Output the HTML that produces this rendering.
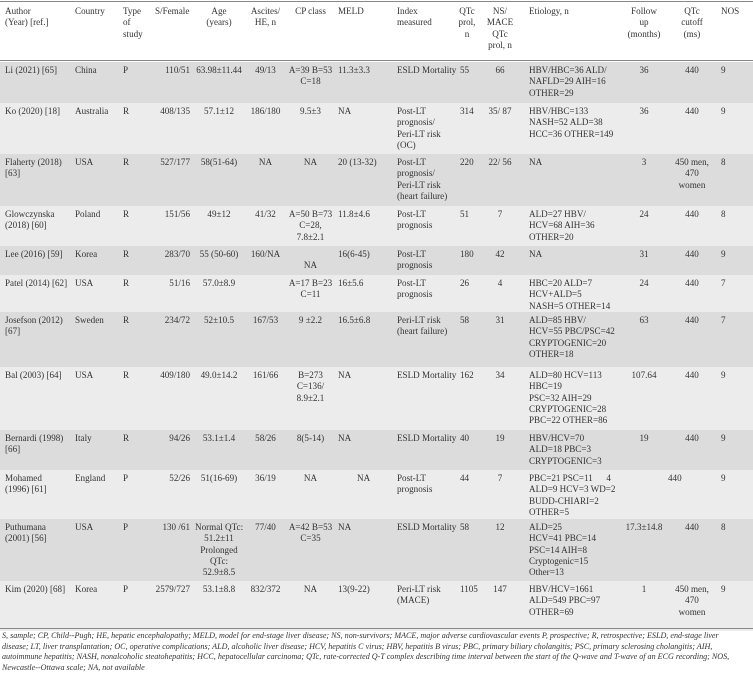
<!DOCTYPE html>
<html><head><meta charset="utf-8"><style>
html,body{margin:0;padding:0;background:#fff;width:753px;height:671px;overflow:hidden}
body{font-family:"Liberation Serif",serif;color:#333;font-size:9.1px;line-height:11.3px}
table{position:absolute;left:0;top:2px;width:753px;border-collapse:collapse;table-layout:fixed}
td{vertical-align:top;padding:3px 0 0 5px;overflow:visible;white-space:nowrap}
tr.h td{height:56px;padding-top:4px}
tr.d td{background:#dcdcdc}
tr.l td{background:#ececec}
td.e{padding-left:8px}
.c{text-align:center;padding-left:0}
.r{text-align:right;padding-right:5px}
#top{position:absolute;left:0;top:1px;width:753px;border-top:1.5px solid #888}
#hl{position:absolute;left:0;top:60px;width:753px;border-top:1.5px solid #888}
#bl{position:absolute;left:0;top:628px;width:753px;border-top:1.5px solid #888}
#fn{position:absolute;left:2px;top:631px;width:760px;font-style:italic;font-size:8.1px;line-height:10.6px;color:#333;white-space:nowrap}
</style></head><body>
<table>
<colgroup><col style="width:70px"><col style="width:48px"><col style="width:32px"><col style="width:45px"><col style="width:48px"><col style="width:45px"><col style="width:45px"><col style="width:59px"><col style="width:63px"><col style="width:24px"><col style="width:42px"><col style="width:99px"><col style="width:48px"><col style="width:48px"><col style="width:37px"></colgroup>
<tr class="h"><td>Author<br>(Year) [ref.]</td><td>Country</td><td>Type<br>of<br>study</td><td>S/Female</td><td class="c">Age<br>(years)</td><td class="c">Ascites/<br>HE, n</td><td class="c">CP class</td><td>MELD</td><td>Index<br>measured</td><td class="c">QTc<br>prol,<br>n</td><td class="c">NS/<br>MACE<br>QTc<br>prol, n</td><td class="e">Etiology, n</td><td class="c">Follow<br>up<br>(months)</td><td class="c">QTc<br>cutoff<br>(ms)</td><td>NOS</td></tr>
<tr class="d" style="height:41px"><td>Li (2021) [65]</td><td>China</td><td>P</td><td class="r">110/51</td><td class="c">63.98±11.44</td><td class="c">49/13</td><td class="c">A=39 B=53<br>C=18</td><td>11.3±3.3</td><td>ESLD Mortality</td><td>55</td><td class="c">66</td><td class="e">HBV/HBC=36 ALD/<br>NAFLD=29 AIH=16<br>OTHER=29</td><td class="c">36</td><td class="c">440</td><td>9</td></tr>
<tr class="l" style="height:51px"><td>Ko (2020) [18]</td><td>Australia</td><td>R</td><td class="r">408/135</td><td class="c">57.1±12</td><td class="c">186/180</td><td class="c">9.5±3</td><td>NA</td><td>Post-LT<br>prognosis/<br>Peri-LT risk<br>(OC)</td><td>314</td><td class="c">35/ 87</td><td class="e">HBV/HBC=133<br>NASH=52 ALD=38<br>HCC=36 OTHER=149</td><td class="c">36</td><td class="c">440</td><td>9</td></tr>
<tr class="d" style="height:52px"><td>Flaherty (2018)<br>[63]</td><td>USA</td><td>R</td><td class="r">527/177</td><td class="c">58(51-64)</td><td class="c">NA</td><td class="c">NA</td><td>20 (13-32)</td><td>Post-LT<br>prognosis/<br>Peri-LT risk<br>(heart failure)</td><td>220</td><td class="c">22/ 56</td><td class="e">NA</td><td class="c">3</td><td class="c">450 men,<br>470<br>women</td><td>8</td></tr>
<tr class="l" style="height:40px"><td>Glowczynska<br>(2018) [60]</td><td>Poland</td><td>R</td><td class="r">151/56</td><td class="c">49±12</td><td class="c">41/32</td><td class="c">A=50 B=73<br>C=28,<br>7.8±2.1</td><td>11.8±4.6</td><td>Post-LT<br>prognosis</td><td>51</td><td class="c">7</td><td class="e">ALD=27 HBV/<br>HCV=68 AIH=36<br>OTHER=20</td><td class="c">24</td><td class="c">440</td><td>8</td></tr>
<tr class="d" style="height:29px"><td>Lee (2016) [59]</td><td>Korea</td><td>R</td><td class="r">283/70</td><td class="c">55 (50-60)</td><td class="c">160/NA</td><td class="c"><br>NA</td><td>16(6-45)</td><td>Post-LT<br>prognosis</td><td>180</td><td class="c">42</td><td class="e">NA</td><td class="c">31</td><td class="c">440</td><td>9</td></tr>
<tr class="l" style="height:37px"><td>Patel (2014) [62]</td><td>USA</td><td>R</td><td class="r">51/16</td><td class="c">57.0±8.9</td><td class="c"></td><td class="c">A=17 B=23<br>C=11</td><td>16±5.6</td><td>Post-LT<br>prognosis</td><td>26</td><td class="c">4</td><td class="e">HBC=20 ALD=7<br>HCV+ALD=5<br>NASH=5 OTHER=14</td><td class="c">24</td><td class="c">440</td><td>7</td></tr>
<tr class="d" style="height:55px"><td>Josefson (2012)<br>[67]</td><td>Sweden</td><td>R</td><td class="r">234/72</td><td class="c">52±10.5</td><td class="c">167/53</td><td class="c">9 ±2.2</td><td>16.5±6.8</td><td>Peri-LT risk<br>(heart failure)</td><td>58</td><td class="c">31</td><td class="e">ALD=85 HBV/<br>HCV=55 PBC/PSC=42<br>CRYPTOGENIC=20<br>OTHER=18</td><td class="c">63</td><td class="c">440</td><td>7</td></tr>
<tr class="l" style="height:63px"><td>Bal (2003) [64]</td><td>USA</td><td>R</td><td class="r">409/180</td><td class="c">49.0±14.2</td><td class="c">161/66</td><td class="c">B=273<br>C=136/<br>8.9±2.1</td><td>NA</td><td>ESLD Mortality</td><td>162</td><td class="c">34</td><td class="e">ALD=80 HCV=113<br>HBC=19<br>PSC=32 AIH=29<br>CRYPTOGENIC=28<br>PBC=22 OTHER=86</td><td class="c">107.64</td><td class="c">440</td><td>9</td></tr>
<tr class="d" style="height:40px"><td>Bernardi (1998)<br>[66]</td><td>Italy</td><td>R</td><td class="r">94/26</td><td class="c">53.1±1.4</td><td class="c">58/26</td><td class="c">8(5-14)</td><td>NA</td><td>ESLD Mortality</td><td>40</td><td class="c">19</td><td class="e">HBV/HCV=70<br>ALD=18 PBC=3<br>CRYPTOGENIC=3</td><td class="c">19</td><td class="c">440</td><td>9</td></tr>
<tr class="l" style="height:49px"><td>Mohamed<br>(1996) [61]</td><td>England</td><td>P</td><td class="r">52/26</td><td class="c">51(16-69)</td><td class="c">36/19</td><td class="c">NA</td><td style="padding-left:24px">NA</td><td>Post-LT<br>prognosis</td><td>44</td><td class="c">7</td><td class="e">PBC=21 PSC=11 &nbsp; &nbsp; &nbsp;4<br>ALD=9 HCV=3 WD=2<br>BUDD-CHIARI=2<br>OTHER=5</td><td></td><td style="padding-left:0">440</td><td>9</td></tr>
<tr class="d" style="height:62px"><td>Puthumana<br>(2001) [56]</td><td>USA</td><td>P</td><td class="r">130 /61</td><td class="c">Normal QTc:<br>51.2±11<br>Prolonged<br>QTc:<br>52.9±8.5</td><td class="c">77/40</td><td class="c">A=42 B=53<br>C=35</td><td>NA</td><td>ESLD Mortality</td><td>58</td><td class="c">12</td><td class="e">ALD=25<br>HCV=41 PBC=14<br>PSC=14 AIH=8<br>Cryptogenic=15<br>Other=13</td><td class="c">17.3±14.8</td><td class="c">440</td><td>8</td></tr>
<tr class="l" style="height:50px"><td>Kim (2020) [68]</td><td>Korea</td><td>P</td><td class="r">2579/727</td><td class="c">53.1±8.8</td><td class="c">832/372</td><td class="c">NA</td><td>13(9-22)</td><td>Peri-LT risk<br>(MACE)</td><td>1105</td><td class="c">147</td><td class="e">HBV/HCV=1661<br>ALD=549 PBC=97<br>OTHER=69</td><td class="c">1</td><td class="c">450 men,<br>470<br>women</td><td>9</td></tr>
</table>
<div id="top"></div><div id="hl"></div><div id="bl"></div>
<div id="fn">S, sample; CP, Child--Pugh; HE, hepatic encephalopathy; MELD, model for end-stage liver disease; NS, non-survivors; MACE, major adverse cardiovascular events P, prospective; R, retrospective; ESLD, end-stage liver<br>disease; LT, liver transplantation; OC, operative complications; ALD, alcoholic liver disease; HCV, hepatitis C virus; HBV, hepatitis B virus; PBC, primary biliary cholangitis; PSC, primary sclerosing cholangitis; AIH,<br>autoimmune hepatitis; NASH, nonalcoholic steatohepatitis; HCC, hepatocellular carcinoma; QTc, rate-corrected Q-T complex describing time interval between the start of the Q-wave and T-wave of an ECG recording; NOS,<br>Newcastle--Ottawa scale; NA, not available</div>
</body></html>
